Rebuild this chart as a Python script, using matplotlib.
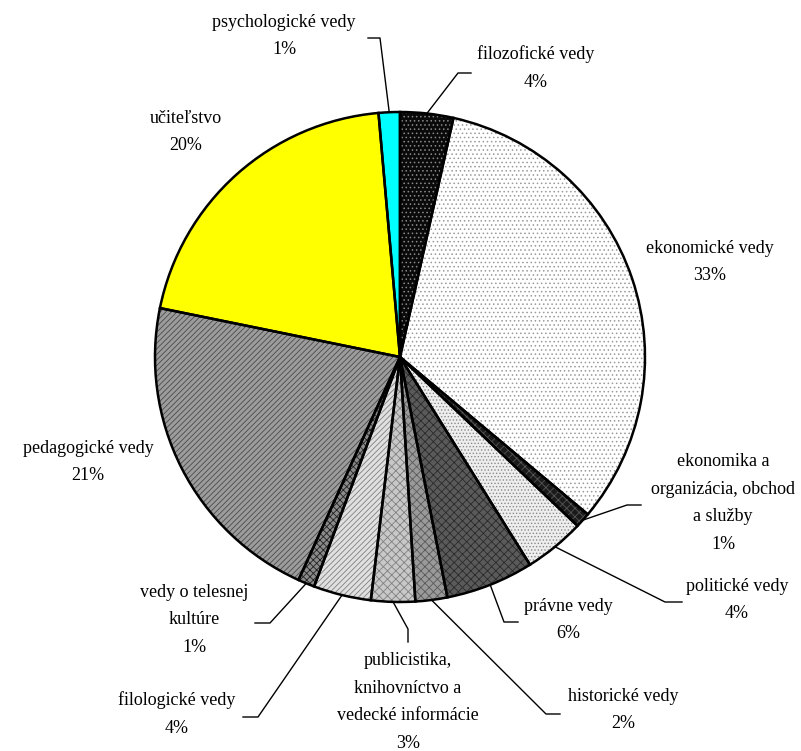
import numpy as np
import matplotlib.pyplot as plt

labels = [
    "filozofické vedy",
    "ekonomické vedy",
    "ekonomika a\norganizácia, obchod\na služby",
    "politické vedy",
    "právne vedy",
    "historické vedy",
    "publicistika,\nknihovníctvo a\nvedecké informácie",
    "filologické vedy",
    "vedy o telesnej\nkultúre",
    "pedagogické vedy",
    "učiteľstvo",
    "psychologické vedy",
]
values = [3.5, 32.6, 1.0, 4.0, 5.8, 2.1, 2.9, 3.8, 1.1, 21.4, 20.4, 1.4]

# fill: (face, hatch, hatch colour)
fills = [
    ("#0a0a0a", "....", "#8a8a8a"),
    ("#ffffff", "....", "#9a9a9a"),
    ("#1a1a1a", "xxxx", "#555555"),
    ("#eeeeee", ".....", "#8a8a8a"),
    ("#5a5a5a", "xxxx", "#2a2a2a"),
    ("#9a9a9a", "xxxx", "#5a5a5a"),
    ("#c8c8c8", "xxxx", "#808080"),
    ("#e0e0e0", "//////", "#808080"),
    ("#8a8a8a", "xxxxx", "#222222"),
    ("#9c9c9c", "//////", "#4a4a4a"),
    ("#ffff00", None, "#ffff00"),
    ("#00ffff", None, "#00ffff"),
]

CX, CY, R = 400, 357, 245


def px(x, y):
    return (x - CX) / R, (CY - y) / R


# label centre and leader points (pixels), None = no leader
layout = [
    ((536, 68), [(458, 73), (471, 73)]),
    ((710, 262), None),
    ((723, 503), [(627, 505), (641, 505)]),
    ((737, 600), [(665, 602), (682, 602)]),
    ((568, 620), [(504, 622), (518, 622)]),
    ((623, 710), [(546, 714), (560, 714)]),
    ((408, 702), [(408, 629), (408, 642)]),
    ((177, 714), [(258, 717), (243, 717)]),
    ((194, 620), [(270, 623), (255, 623)]),
    ((88, 462), None),
    ((186, 132), None),
    ((284, 36), [(380, 38), (368, 38)]),
]

plt.rcParams["hatch.linewidth"] = 0.6

fig = plt.figure(figsize=(8.01, 7.51), dpi=100)
ax = fig.add_axes([0, 0, 1, 1])

wedges, _ = ax.pie(values, startangle=90, counterclock=False, radius=1,
                   wedgeprops=dict(linewidth=0))
for w, (face, hatch, hc) in zip(wedges, fills):
    w.set_facecolor(face)
    w.set_edgecolor(hc)
    if hatch:
        w.set_hatch(hatch)

ax.pie(values, startangle=90, counterclock=False, radius=1,
       wedgeprops=dict(facecolor="none", edgecolor="black", linewidth=1.8))

total = sum(values)
for w, lab, v, (pos, leader) in zip(wedges, labels, values, layout):
    tx, ty = px(*pos)
    ax.text(tx, ty, f"{lab}\n{v / total * 100:.0f}%", ha="center", va="center",
            fontsize=13, family="Liberation Serif", linespacing=1.82)
    if leader:
        mid = np.deg2rad((w.theta1 + w.theta2) / 2)
        xs = [np.cos(mid)] + [px(*p)[0] for p in leader]
        ys = [np.sin(mid)] + [px(*p)[1] for p in leader]
        ax.plot(xs, ys, color="black", linewidth=1)

ax.set_aspect("auto")
ax.set_xlim(-CX / R, (801 - CX) / R)
ax.set_ylim((CY - 751) / R, CY / R)
ax.axis("off")

fig.savefig("out.png", dpi=100)
